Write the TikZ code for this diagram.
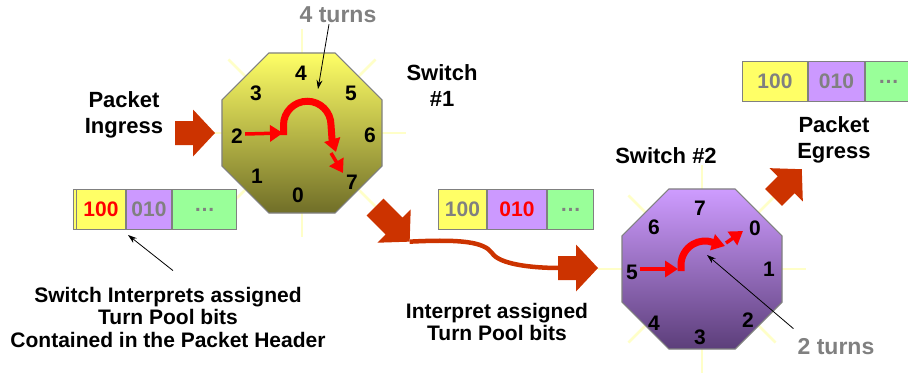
\documentclass[tikz,border=0pt]{standalone}
\usepackage{fontspec}
\setmainfont{Liberation Sans}
\usetikzlibrary{arrows.meta,shapes.geometric}

\definecolor{blockred}{RGB}{204,51,0}
\definecolor{turnred}{RGB}{255,0,0}
\definecolor{raycol}{RGB}{255,255,200}
\definecolor{edgegray}{RGB}{128,128,128}
\definecolor{labelgray}{RGB}{128,128,128}
\definecolor{cellyellow}{RGB}{255,255,102}
\definecolor{cellpurple}{RGB}{204,153,255}
\definecolor{cellgreen}{RGB}{153,255,153}
\definecolor{oliveTop}{RGB}{255,255,102}
\definecolor{oliveBot}{RGB}{112,110,40}
\definecolor{violetTop}{RGB}{206,156,255}
\definecolor{violetBot}{RGB}{92,62,122}

% red block arrow: name, tail point, direction (page angle), length
\newcommand\blockarrow[4]{%
  \begin{scope}[shift={#2}, rotate=#3]
    \fill[blockred] (0,-12) -- ({#4-22},-12) -- ({#4-22},-23.5) -- (#4,0)
      -- ({#4-22},23.5) -- ({#4-22},12) -- (0,12) -- cycle;
    \coordinate (#1 tail) at (0,0);
    \coordinate (#1 tip) at (#4,0);
  \end{scope}}

\begin{document}
\begin{tikzpicture}[x=1pt, y=-1pt,
  octa/.style={regular polygon, regular polygon sides=8, minimum size=173.2pt,
    inner sep=0pt, outer sep=0pt, draw=edgegray, line width=1.2pt},
  ray/.style={raycol, line width=2.5pt},
  lab/.style={font=\bfseries\fontsize{22}{26}\selectfont, align=center, inner sep=0pt},
  caption/.style={font=\bfseries\fontsize{21}{22.5}\selectfont, align=center, inner sep=0pt},
  num/.style={font=\bfseries\fontsize{21}{24}\selectfont, inner sep=0pt},
  cell/.style={draw=edgegray, line width=1pt, minimum height=40pt, inner sep=0pt,
    anchor=north west, font=\bfseries\fontsize{21}{24}\selectfont, text=labelgray},
  turnarc/.style={turnred, line width=7pt},
  turnline/.style={turnred, line width=3.5pt},
  turnhead/.style={-{Triangle[length=13pt,width=16pt]}},
  pointer/.style={black, line width=0.8pt, -{Stealth[length=9pt,width=6pt]}},
  flow/.style={blockred, line width=4.5pt}]
\useasboundingbox (0,0) rectangle (908,375);

% ---------- switch 1 ----------
\coordinate (c1) at (302,133);
\foreach \a in {0,45,...,315} \draw[ray] (c1) ++(\a:79) -- ++(\a:25);
\node[octa, top color=oliveTop, bottom color=oliveBot] (sw1) at (c1) {};
\node[num] (s1p4) at (301,73) {4};
\node[num] (s1p3) at (256,93) {3};
\node[num] (s1p5) at (351,93) {5};
\node[num] (s1p2) at (237,136) {2};
\node[num] (s1p6) at (370,135) {6};
\node[num] (s1p1) at (257,176) {1};
\node[num] (s1p0) at (298,195) {0};
\node[num] (s1p7) at (352,182) {7};

\coordinate (arc1in) at (283,133);
\coordinate (arc1out) at (336,152);
\coordinate (port7) at (343,173);
\draw[turnline, turnhead] ([shift={(2,-2)}]s1p2.east) -- (arc1in);
\draw[turnarc, turnhead] (283.5,135) -- (283.5,125)
  arc[start angle=180, end angle=360, radius=23.75] -- (332,139) -- (arc1out);
\draw[turnline, turnhead] (331,153) -- (port7);

% ---------- switch 2 ----------
\coordinate (c2) at (702,269);
\foreach \a in {0,45,...,315} \draw[ray] (c2) ++(\a:79) -- ++(\a:25);
\node[octa, top color=violetTop, bottom color=violetBot] (sw2) at (c2) {};
\node[num] (s2p7) at (700,208) {7};
\node[num] (s2p6) at (654,227) {6};
\node[num] (s2p0) at (755,228) {0};
\node[num] (s2p5) at (632,272) {5};
\node[num] (s2p1) at (769,269) {1};
\node[num] (s2p4) at (654,323) {4};
\node[num] (s2p2) at (748,320) {2};
\node[num] (s2p3) at (700,337) {3};

\coordinate (arc2in) at (678,269);
\coordinate (arc2out) at (725,246);
\coordinate (port0) at (743,231);
\draw[turnline, turnhead] ([shift={(2,-3)}]s2p5.east) -- (arc2in);
\draw[turnarc, turnhead] (681,271) -- (681,265)
  arc[start angle=180, end angle=290, radius=24] -- (arc2out);
\draw[turnline, turnhead] (726,243) -- (port0);

% ---------- packet flow ----------
\blockarrow{in1}{(175,133)}{0}{40}
\blockarrow{out1}{(375,207)}{-45}{49}
\draw[flow] (out1 tip) .. controls (462,239) and (484,242) .. (492,253)
  .. controls (499,264) and (530,268) .. (560,268);
\blockarrow{in2}{(558,268)}{0}{40}
\blockarrow{out2}{(773.5,197.5)}{45}{40}

% ---------- labels ----------
\node[lab] (ingress) at (124,115) {Packet\\Ingress};
\node[lab] (sw1name) at (442,86) {Switch\\\#1};
\node[lab] (sw2name) at (666,156) {Switch \#2};
\node[lab] (egress) at (834,140) {Packet\\Egress};
\node[lab, text=labelgray, font=\bfseries\fontsize{23}{26}\selectfont] (turns1) at (338,15) {4 turns};
\node[lab, text=labelgray, font=\bfseries\fontsize{23}{26}\selectfont] (turns2) at (836,347) {2 turns};
\node[caption] (capt1) at (168,317) {Switch Interprets assigned\\Turn Pool bits\\Contained in the Packet Header};
\node[caption] (capt2) at (497,322) {Interpret assigned\\Turn Pool bits};

% ---------- packet headers ----------
\draw[edgegray, line width=1pt, fill=cellyellow] (73.5,189) rectangle (76,229);
\node[cell, fill=cellyellow, minimum width=49pt, text=turnred] (p1a) at (76,189) {100};
\node[cell, fill=cellpurple, minimum width=45pt] (p1b) at (p1a.north east) {010};
\node[cell, fill=cellgreen, minimum width=64pt] (p1c) at (p1b.north east) {\dots};

\node[cell, fill=cellyellow, minimum width=48pt] (p2a) at (438,189) {100};
\node[cell, fill=cellpurple, minimum width=59pt, text=turnred] (p2b) at (p2a.north east) {010};
\node[cell, fill=cellgreen, minimum width=46pt] (p2c) at (p2b.north east) {\dots};

\node[cell, fill=cellyellow, minimum width=65pt] (p3a) at (742,61) {100};
\node[cell, fill=cellpurple, minimum width=56pt] (p3b) at (p3a.north east) {010};
\node[cell, fill=cellgreen, minimum width=46pt] (p3c) at (p3b.north east) {\dots};

% ---------- pointers ----------
\coordinate (arc1) at (318,89);
\coordinate (arc2) at (707,255);
\draw[pointer] ([shift={(-9,1)}]turns1.south) -- (arc1);
\draw[pointer] ([shift={(-4,-10)}]turns2.north west) -- (arc2);
\draw[pointer] ([shift={(5,-16)}]capt1.north) -- ([shift={(2,5)}]p1a.south east);
\end{tikzpicture}
\end{document}
